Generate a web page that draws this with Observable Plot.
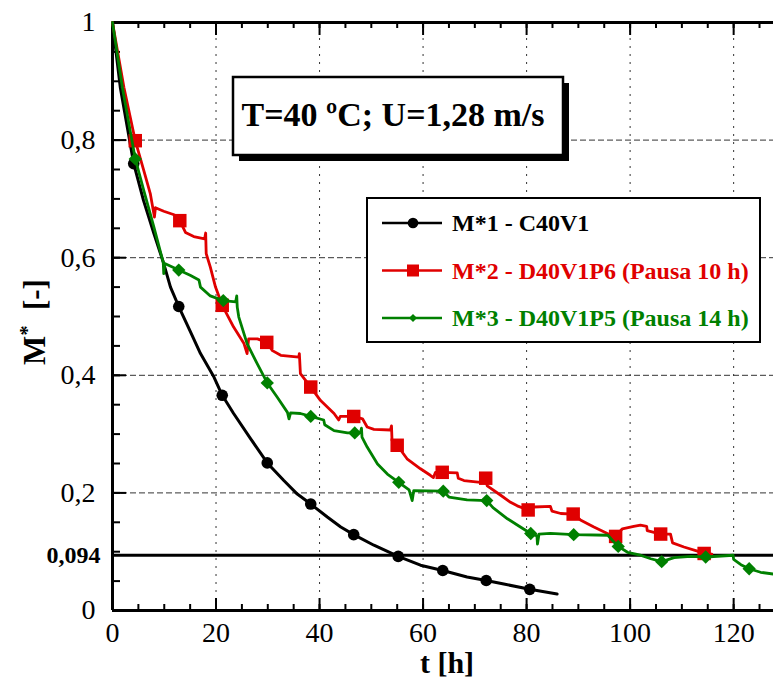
<!DOCTYPE html>
<html>
<head>
<meta charset="utf-8">
<script src="https://cdn.jsdelivr.net/npm/d3@7"></script>
<script src="https://cdn.jsdelivr.net/npm/@observablehq/plot@0.6"></script>
<style>
  html, body { margin: 0; padding: 0; background: #fff; }
  #chart svg { display: block; }
</style>
</head>
<body>
<div id="chart"></div>
<script>
const FONT = "'Liberation Serif','Times New Roman',Times,serif";

// ---- Series 1: M*1 - C40V1 (continuous drying) ----
const t1 = [0, 1.5, 4.1, 6.0, 8.0, 9.9, 11.2, 12.8, 15.0, 17.0, 19.6, 21.2, 23.4, 26.7, 29.9, 33.1, 35.7, 38.3, 41.5, 44.1, 46.6, 50.5, 55.2, 59.5, 63.8, 68.5, 72.2, 75.6, 80.6, 85.9];
const m1 = [1, 0.89, 0.76, 0.697, 0.641, 0.590, 0.550, 0.517, 0.475, 0.437, 0.397, 0.366, 0.335, 0.292, 0.251, 0.221, 0.198, 0.181, 0.159, 0.142, 0.129, 0.111, 0.092, 0.077, 0.068, 0.057, 0.051, 0.045, 0.036, 0.028];
const t1Mk = [4.1, 12.8, 21.2, 29.9, 38.3, 46.6, 55.2, 63.8, 72.2, 80.6];
const m1Mk = [0.760, 0.517, 0.366, 0.251, 0.181, 0.129, 0.092, 0.068, 0.051, 0.036];

// ---- Series 2: M*2 - D40V1P6 (Pausa 10 h) ----
const t2 = [0, 2.2, 4.4, 6.05, 7.3, 8.1, 8.3, 9.9, 11.9, 13.0, 14.1, 15.7, 17.8, 18.0, 18.1, 18.9, 19.9, 21.2, 23.4, 25.4, 26.0, 26.3, 28.0, 29.8, 30.9, 32.5, 36.0, 36.1, 36.3, 38.3, 40.2, 42.8, 43.7, 44.0, 46.6, 48.3, 49.2, 50.5, 53.7, 53.9, 54.0, 55.0, 56.9, 59.5, 61.4, 62.0, 62.4, 63.7, 66.6, 66.8, 67.9, 71.1, 72.0, 72.4, 75.0, 76.9, 78.2, 80.3, 81.4, 84.6, 84.9, 86.6, 89.0, 90.4, 93.0, 95.6, 97.2, 98.5, 100.7, 102.0, 103.2, 103.3, 105.9, 107.8, 108.2, 110.4, 113.0, 114.3, 115.8];
const m2 = [1, 0.89, 0.799, 0.748, 0.709, 0.669, 0.685, 0.679, 0.673, 0.663, 0.643, 0.636, 0.632, 0.642, 0.607, 0.584, 0.550, 0.519, 0.482, 0.454, 0.437, 0.462, 0.462, 0.456, 0.442, 0.434, 0.431, 0.437, 0.403, 0.380, 0.357, 0.335, 0.324, 0.330, 0.330, 0.326, 0.312, 0.308, 0.307, 0.314, 0.289, 0.281, 0.258, 0.241, 0.230, 0.226, 0.235, 0.235, 0.234, 0.225, 0.221, 0.218, 0.226, 0.212, 0.196, 0.184, 0.178, 0.171, 0.176, 0.177, 0.169, 0.165, 0.164, 0.154, 0.142, 0.131, 0.126, 0.139, 0.143, 0.145, 0.143, 0.136, 0.130, 0.130, 0.115, 0.108, 0.101, 0.097, 0.096];
const t2Mk = [4.4, 13.0, 21.2, 29.8, 38.3, 46.6, 55.0, 63.7, 72.1, 80.3, 89.0, 97.2, 105.9, 114.3];
const m2Mk = [0.799, 0.663, 0.519, 0.456, 0.380, 0.330, 0.281, 0.235, 0.225, 0.171, 0.164, 0.126, 0.130, 0.097];

// ---- Series 3: M*3 - D40V1P5 (Pausa 14 h) ----
const t3 = [0, 1.9, 4.4, 6.05, 8.0, 9.8, 9.9, 10.1, 12.8, 15.0, 16.7, 17.0, 18.9, 21.4, 23.8, 24.0, 24.1, 24.4, 26.0, 28.0, 29.9, 31.8, 33.8, 34.1, 34.4, 36.3, 38.3, 40.8, 41.0, 42.8, 45.4, 46.8, 47.9, 48.1, 48.2, 49.2, 51.2, 53.1, 55.3, 57.3, 57.9, 58.2, 63.9, 65.0, 68.5, 72.3, 73.5, 76.3, 78.8, 80.8, 82.0, 82.1, 82.4, 84.6, 89.1, 95.7, 96.6, 97.7, 99.5, 102.0, 104.0, 106.1, 108.5, 111.7, 114.6, 119.9, 120.0, 121.4, 123.0, 125.2, 127.7];
const m3 = [1, 0.89, 0.768, 0.714, 0.652, 0.592, 0.573, 0.590, 0.579, 0.570, 0.562, 0.550, 0.535, 0.527, 0.525, 0.535, 0.516, 0.499, 0.454, 0.419, 0.387, 0.363, 0.337, 0.326, 0.336, 0.335, 0.330, 0.324, 0.316, 0.306, 0.302, 0.302, 0.303, 0.310, 0.295, 0.278, 0.249, 0.232, 0.218, 0.205, 0.187, 0.204, 0.203, 0.193, 0.188, 0.187, 0.175, 0.156, 0.142, 0.131, 0.127, 0.113, 0.130, 0.131, 0.129, 0.128, 0.119, 0.109, 0.099, 0.094, 0.088, 0.083, 0.090, 0.092, 0.091, 0.094, 0.087, 0.078, 0.071, 0.065, 0.062];
const t3Mk = [4.4, 12.8, 21.4, 29.9, 38.3, 46.8, 55.3, 63.9, 72.3, 80.8, 89.1, 97.7, 106.1, 114.6, 123.0];
const m3Mk = [0.768, 0.579, 0.527, 0.387, 0.330, 0.302, 0.218, 0.203, 0.187, 0.131, 0.129, 0.109, 0.083, 0.091, 0.071];

const seriesNames = ["M*1 - C40V1", "M*2 - D40V1P6 (Pausa 10 h)", "M*3 - D40V1P5 (Pausa 14 h)"];
const seriesColors = ["#000000", "#e00000", "#008000"];
const seriesSymbols = ["circle", "square", "diamond2"];

const thresholdValue = 0.094;
const thresholdLabel = "0,094";
const xTickValues = [0, 20, 40, 60, 80, 100, 120];
const xTickLabels = ["0", "20", "40", "60", "80", "100", "120"];
const xMinorTicks = [0, 5, 10, 15, 20, 25, 30, 35, 40, 45, 50, 55, 60, 65, 70, 75, 80, 85, 90, 95, 100, 105, 110, 115, 120, 125];
const yTickValues = [0, 0.2, 0.4, 0.6, 0.8, 1];
const yTickLabels = ["0", "0,2", "0,4", "0,6", "0,8", "1"];
const yMinorTicks = [0, 0.05, 0.1, 0.15, 0.2, 0.25, 0.3, 0.35, 0.4, 0.45, 0.5, 0.55, 0.6, 0.65, 0.7, 0.75, 0.8, 0.85, 0.9, 0.95, 1];
const xGrid = [20, 40, 60, 80, 100, 120];
const yGrid = [0.2, 0.4, 0.6, 0.8];
const xLabel = "t [h]";
const annotationText = "T=40 ºC; U=1,28 m/s";

// ---- build tables ----
const toRows = (ts, ms) => ts.map((t, i) => ({t, m: ms[i]}));
const lines = [toRows(t1, m1), toRows(t2, m2), toRows(t3, m3)];
const markers = [toRows(t1Mk, m1Mk), toRows(t2Mk, m2Mk), toRows(t3Mk, m3Mk)];

// ---- layout ----
const W = 773, H = 686, ML = 112, MR = 0, MT = 22, MB = 76;
const innerW = W - ML - MR, innerH = H - MT - MB;
const markerR = [5.8, 7.6, 6.0];
const lineW = [3, 2.8, 2.8];

const marks = [
  Plot.ruleX(xGrid, {stroke: "#333", strokeWidth: 1, strokeDasharray: "2,6"}),
  Plot.ruleY(yGrid, {stroke: "#333", strokeWidth: 1, strokeDasharray: "6,3"}),
  Plot.ruleY([thresholdValue], {stroke: "black", strokeWidth: 3}),
  // ticks (inward)
  Plot.ruleX(xMinorTicks, {insetTop: innerH - 6, strokeWidth: 2}),
  Plot.ruleX(xTickValues, {insetTop: innerH - 12, strokeWidth: 2}),
  Plot.ruleX(xMinorTicks, {insetBottom: innerH - 6, strokeWidth: 2}),
  Plot.ruleX(xTickValues, {insetBottom: innerH - 13, strokeWidth: 2}),
  Plot.ruleY(yMinorTicks, {insetRight: innerW - 8, strokeWidth: 2}),
  Plot.ruleY(yTickValues, {insetRight: innerW - 14, strokeWidth: 2}),
  // frame
  Plot.ruleX([0], {strokeWidth: 3}),
  Plot.ruleY([0, 1], {strokeWidth: 3})
];
for (let k = 0; k < 3; k++) {
  marks.push(Plot.line(lines[k], {x: "t", y: "m", stroke: seriesColors[k], strokeWidth: lineW[k], strokeLinejoin: "round"}));
  marks.push(Plot.dot(markers[k], {x: "t", y: "m", fill: seriesColors[k], stroke: "none", r: markerR[k], symbol: seriesSymbols[k]}));
}
marks.push(
  Plot.text(xTickValues, {x: d => d, frameAnchor: "bottom", dy: 31, text: (d, i) => xTickLabels[i], fontSize: 28, fill: "black"}),
  Plot.text(yTickValues, {y: d => d, frameAnchor: "left", textAnchor: "end", dx: -17, text: (d, i) => yTickLabels[i], fontSize: 28, fill: "black"}),
  Plot.text([thresholdValue], {y: d => d, frameAnchor: "left", textAnchor: "end", dx: -12, text: () => thresholdLabel, fontSize: 24, fontWeight: "bold", fill: "black"}),
  Plot.text([xLabel], {frameAnchor: "bottom", dy: 62, dx: 4, text: d => d, fontSize: 30, fontWeight: "bold", fill: "black"})
);

const plot = Plot.plot({
  width: W, height: H,
  marginLeft: ML, marginRight: MR, marginTop: MT, marginBottom: MB,
  x: {domain: [0, 127.7], axis: null},
  y: {domain: [0, 1], axis: null},
  style: {fontFamily: FONT, background: "white", color: "black", overflow: "visible"},
  marks
});
document.getElementById("chart").appendChild(plot);

// ---- annotations (pixel layout) ----
const svg = d3.select(plot);
const ann = svg.append("g").attr("font-family", FONT).attr("text-anchor", "start");

// y axis label with superscript
const yl = ann.append("text")
  .attr("transform", "translate(45,322) rotate(-90)")
  .attr("text-anchor", "middle")
  .attr("font-size", 31).attr("font-weight", "bold").attr("fill", "black");
yl.append("tspan").text("M");
yl.append("tspan").attr("dy", -11).attr("font-size", 20).text("*");
yl.append("tspan").attr("dy", 11).text("\u00a0\u00a0[-]");

// condition box with shadow
ann.append("rect").attr("x", 239).attr("y", 83).attr("width", 330).attr("height", 78).attr("fill", "black");
ann.append("rect").attr("x", 233).attr("y", 77).attr("width", 330).attr("height", 78)
  .attr("fill", "white").attr("stroke", "black").attr("stroke-width", 2.5);
ann.append("text").attr("x", 393).attr("y", 126).attr("text-anchor", "middle")
  .attr("font-size", 34).attr("font-weight", "bold").attr("fill", "black").text(annotationText);

// legend
ann.append("rect").attr("x", 367).attr("y", 198).attr("width", 393).attr("height", 144)
  .attr("fill", "white").attr("stroke", "black").attr("stroke-width", 2);
const legSyms = [d3.symbolCircle, d3.symbolSquare, d3.symbolDiamond2];
const legSizes = [Math.PI * 5.3 * 5.3, 12 * 12, 42];
seriesNames.forEach((name, i) => {
  const cy = 223 + i * 47.5;
  ann.append("line").attr("x1", 382).attr("x2", 442).attr("y1", cy).attr("y2", cy)
    .attr("stroke", seriesColors[i]).attr("stroke-width", 2.5);
  ann.append("path").attr("transform", `translate(413,${cy})`)
    .attr("d", d3.symbol(legSyms[i], legSizes[i])()).attr("fill", seriesColors[i]);
  ann.append("text").attr("x", 452).attr("y", cy + 8).attr("text-anchor", "start")
    .attr("font-size", 24).attr("font-weight", "bold").attr("fill", seriesColors[i]).text(name);
});
</script>
</body>
</html>
